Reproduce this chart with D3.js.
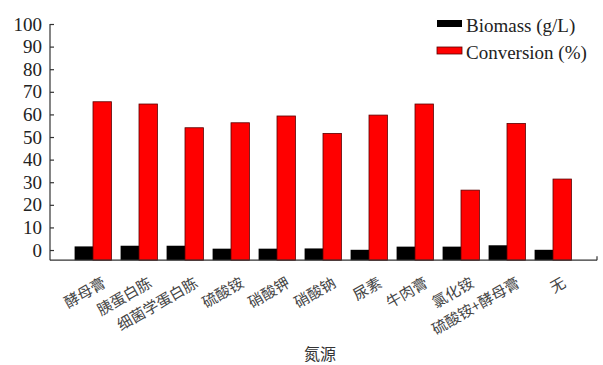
<!DOCTYPE html>
<html><head><meta charset="utf-8">
<script src="https://cdn.jsdelivr.net/npm/d3@7"></script>
<style>body{margin:0;background:#fff}</style>
</head><body>
<svg id="c" width="603" height="365"></svg>
<script>
const categories = ["酵母膏","胰蛋白胨","细菌学蛋白胨","硫酸铵","硝酸钾","硝酸钠","尿素","牛肉膏","氯化铵","硫酸铵+酵母膏","无"];
const biomass = [1.6, 1.9, 1.9, 0.6, 0.6, 0.7, 0.1, 1.5, 1.5, 2.1, 0.1];
const conversion = [65.6, 64.6, 54.1, 56.3, 59.3, 51.6, 59.7, 64.6, 26.5, 56.0, 31.4];
const yTicks = [0,10,20,30,40,50,60,70,80,90,100];
const seriesNames = ["Biomass (g/L)", "Conversion (%)"];
const seriesColors = ["#000000", "#ff0000"];

const svg = d3.select("#c");
const x = d3.scaleBand().domain(categories).range([70, 576]).paddingInner(0.2).paddingOuter(0.1);
const xs = d3.scaleBand().domain([0,1]).range([0, x.bandwidth()]);
const y = d3.scaleLinear().domain([-4.5, 100]).range([260.2, 24]);
const base = y.domain()[0];
const serif = "'Liberation Serif','DejaVu Serif',serif";
const cjk = "'Noto Sans CJK SC','Noto Sans CJK JP',sans-serif";

const data = categories.map((c,i)=>({c, v:[biomass[i], conversion[i]]}));
const g = svg.append("g");
data.forEach(d=>{
  d.v.forEach((v,j)=>{
    g.append("rect")
      .attr("x", x(d.c)+xs(j)).attr("width", xs.bandwidth())
      .attr("y", y(v)).attr("height", y(base)-y(v))
      .attr("fill", seriesColors[j])
      .attr("stroke", j===1 ? "#5a0000" : "none").attr("stroke-width", 0.8);
  });
});

// y axis
const ya = d3.axisLeft(y).tickValues(yTicks).tickSize(-4).tickPadding(8);
const yg = svg.append("g").attr("transform","translate(50,0)").call(ya);
yg.select(".domain").attr("d", `M0,${y(100)}V${y(base)}`).attr("stroke","#333").attr("stroke-width",1.2);
yg.selectAll(".tick line").attr("stroke","#333").attr("stroke-width",1.2);
yg.selectAll(".tick text").attr("font-family", serif).attr("font-size", 19).attr("fill","#222");

// x axis
svg.append("line").attr("x1",50).attr("x2",597).attr("y1",y(base)).attr("y2",y(base)).attr("stroke","#333").attr("stroke-width",1.2);
svg.append("line").attr("x1",597).attr("x2",597).attr("y1",y(base)).attr("y2",y(base)-4).attr("stroke","#333").attr("stroke-width",1.2);

// category labels
svg.append("g").selectAll("text").data(categories).join("text")
  .attr("transform", d=>`translate(${x(d)+x.bandwidth()/2+14},286) rotate(-30)`)
  .attr("text-anchor","end")
  .attr("font-family", cjk).attr("font-size", 15).attr("fill","#444")
  .text(d=>d);

svg.append("text").attr("x",320).attr("y",360).attr("text-anchor","middle")
  .attr("font-family", cjk).attr("font-size",16).attr("fill","#333").text("氮源");

// legend
const lg = svg.append("g");
seriesNames.forEach((n,i)=>{
  lg.append("rect").attr("x",437).attr("y",20+i*27).attr("width",25).attr("height",7)
    .attr("fill",seriesColors[i]).attr("stroke", i===1?"#5a0000":"none").attr("stroke-width",0.8);
  lg.append("text").attr("x",466).attr("y",32+i*27).attr("font-family",serif).attr("font-size",19)
    .attr("fill","#222").text(n);
});
</script>
</body></html>
